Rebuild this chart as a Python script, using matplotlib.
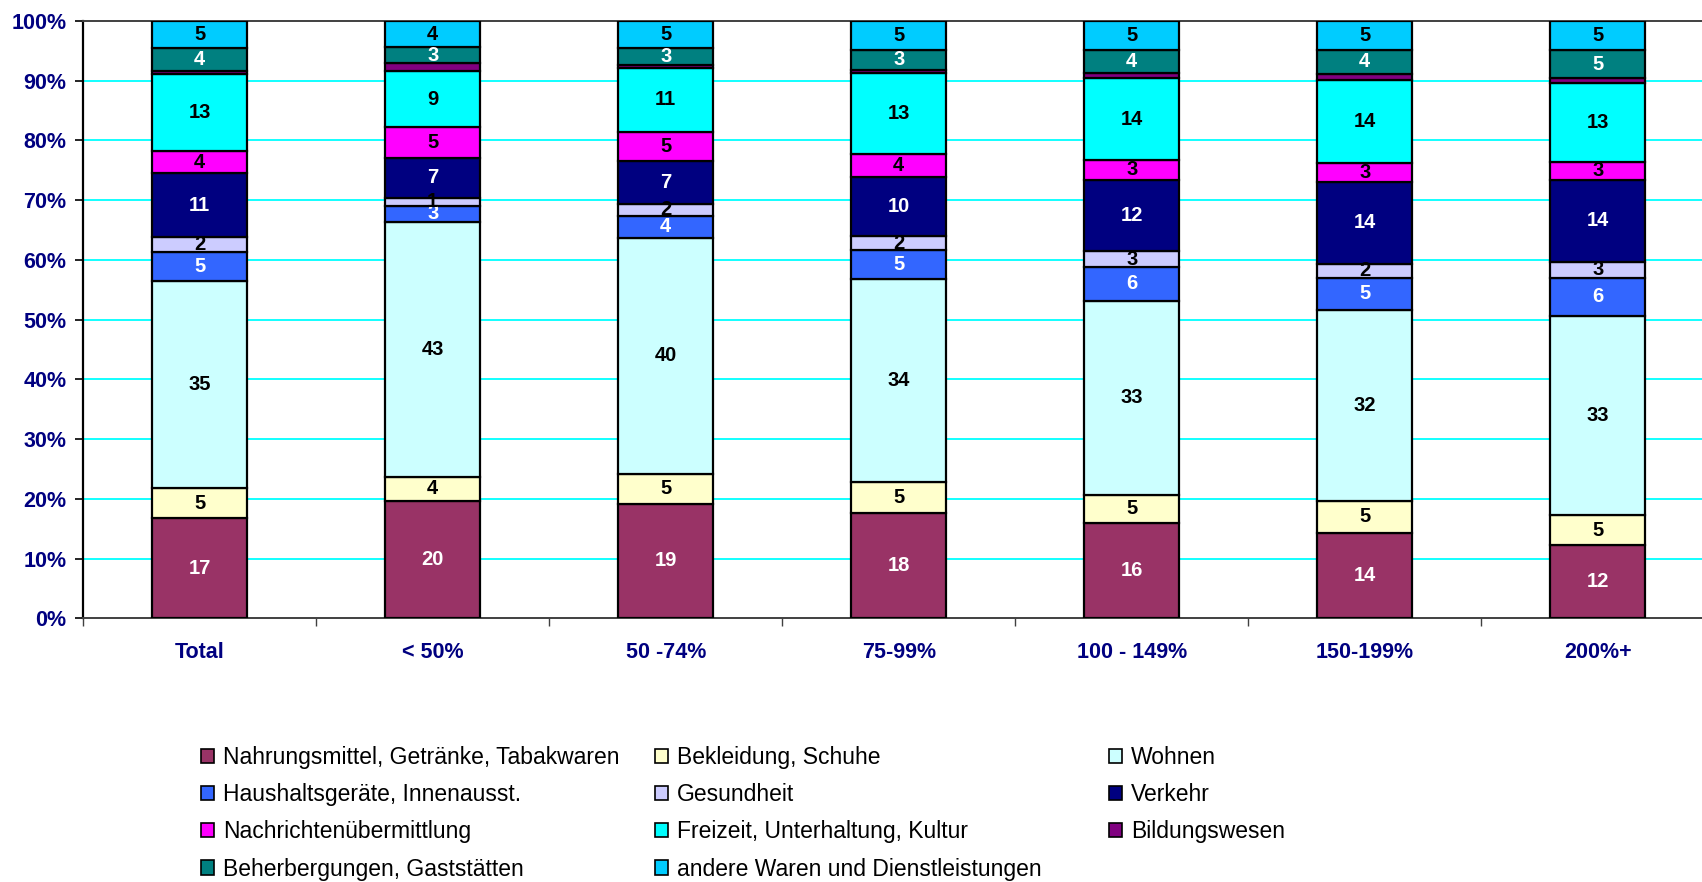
import matplotlib
matplotlib.use("Agg")
import matplotlib.pyplot as plt
import numpy as np
from matplotlib.ticker import FixedLocator, FuncFormatter

categories = ["Total", "< 50%", "50 -74%", "75-99%", "100 - 149%", "150-199%", "200%+"]

series_names = [
    "Nahrungsmittel, Getränke, Tabakwaren",
    "Bekleidung, Schuhe",
    "Wohnen",
    "Haushaltsgeräte, Innenausst.",
    "Gesundheit",
    "Verkehr",
    "Nachrichtenübermittlung",
    "Freizeit, Unterhaltung, Kultur",
    "Bildungswesen",
    "Beherbergungen, Gaststätten",
    "andere Waren und Dienstleistungen",
]

nahrung      = [16.8, 19.6, 19.2, 17.6, 16.0, 14.3, 12.2]
bekleidung   = [5.0, 4.1, 5.0, 5.1, 4.7, 5.3, 5.0]
wohnen       = [34.6, 42.6, 39.6, 33.9, 32.6, 31.9, 33.4]
haushalt     = [5.0, 2.7, 3.6, 4.9, 5.6, 5.4, 6.4]
gesundheit   = [2.4, 1.3, 2.1, 2.2, 2.7, 2.3, 2.6]
verkehr      = [10.7, 6.7, 7.2, 10.0, 12.0, 13.7, 13.8]
nachrichten  = [3.7, 5.1, 4.8, 3.8, 3.3, 3.1, 3.0]
freizeit     = [12.9, 9.4, 10.8, 13.4, 13.7, 14.0, 13.1]
bildung      = [0.6, 1.3, 0.4, 0.55, 0.8, 1.0, 0.85]
beherbergung = [3.7, 2.7, 2.8, 3.4, 4.0, 4.0, 4.8]
andere       = [4.6, 4.4, 4.6, 4.8, 4.8, 4.8, 4.8]

series_values = [nahrung, bekleidung, wohnen, haushalt, gesundheit, verkehr,
                 nachrichten, freizeit, bildung, beherbergung, andere]

colors = ["#993366", "#FFFFCC", "#CCFFFF", "#3366FF", "#CCCCFF", "#000080",
          "#FF00FF", "#00FFFF", "#800080", "#008080", "#00CCFF"]
label_colors = ["white", "black", "black", "white", "black", "white",
                "black", "black", None, "white", "black"]

navy = "#000080"
plt.rcParams["font.family"] = ["Liberation Sans", "DejaVu Sans"]

fig = plt.figure(figsize=(17.02, 8.82), dpi=100)
ax = fig.add_axes([0.04894, 0.2990, 1.0072 - 0.04894, 0.9762 - 0.2990])

data = np.array(series_values, dtype=float)
totals = data.sum(axis=0)
pct = data / totals * 100.0

x = np.arange(len(categories))
bottom = np.zeros(len(categories))
handles = []
for i, name in enumerate(series_names):
    bars = ax.bar(x, pct[i], width=0.406, bottom=bottom, color=colors[i],
                  edgecolor="black", linewidth=1.6, label=name, zorder=3)
    handles.append(bars)
    if label_colors[i] is not None:
        for j in range(len(categories)):
            ax.text(x[j], bottom[j] + pct[i][j] / 2.0, f"{round(data[i][j]):d}",
                    ha="center", va="center", fontsize=14.5, fontweight="bold",
                    color=label_colors[i], zorder=4)
    bottom = bottom + pct[i]

ax.set_xlim(-0.5, len(categories) - 0.5)
ax.set_ylim(0, 100)
ax.set_yticks(np.arange(0, 101, 10))
ax.yaxis.set_major_formatter(FuncFormatter(lambda v, p: f"{int(v)}%"))
ax.set_xticks(x)
ax.set_xticklabels(categories)
ax.xaxis.set_minor_locator(FixedLocator(np.arange(-0.5, len(categories), 1.0)))
ax.tick_params(axis="x", which="major", length=0, pad=17, labelsize=15.5,
               labelcolor=navy)
ax.tick_params(axis="x", which="minor", length=6, width=1.0, color="#404040",
               direction="out")
ax.tick_params(axis="y", which="major", length=6, width=1.2, color="black",
               direction="out", labelsize=15.5, labelcolor=navy, pad=6)
for lab in ax.get_xticklabels() + ax.get_yticklabels():
    lab.set_fontweight("bold")

for yv in range(10, 100, 10):
    ax.axhline(yv, color="#00FFFF", linewidth=1.3, zorder=1)

ax.spines["left"].set_linewidth(1.6)
ax.spines["left"].set_color("black")
ax.spines["bottom"].set_linewidth(1.4)
ax.spines["bottom"].set_color("#404040")
ax.spines["top"].set_linewidth(1.4)
ax.spines["top"].set_color("#404040")
ax.spines["right"].set_visible(False)

# Legend: three columns, filled row-wise like the reference
col_x_px = [201, 655, 1109]
top_y_px = 746
W, H = 1702.0, 882.0
for c in range(3):
    idx = list(range(c, len(series_names), 3))
    leg = fig.legend([handles[k] for k in idx], [series_names[k] for k in idx],
                     loc="upper left",
                     bbox_to_anchor=(col_x_px[c] / W, 1 - top_y_px / H),
                     frameon=False, fontsize=16.5, handlelength=0.58,
                     handleheight=0.58, handletextpad=0.38, labelspacing=0.62,
                     borderpad=0, borderaxespad=0)
    for p in leg.get_patches():
        p.set_linewidth(1.2)

fig.savefig("out.png", dpi=100)
